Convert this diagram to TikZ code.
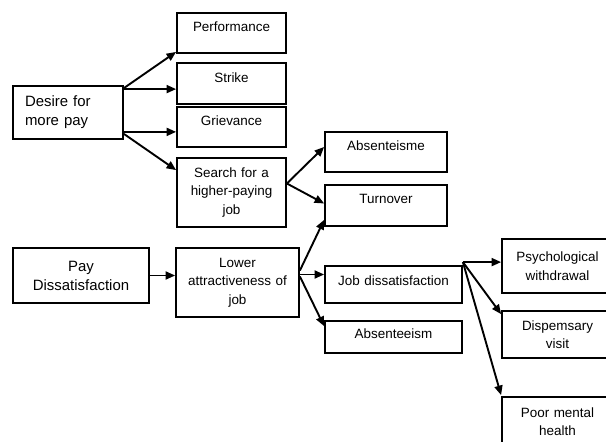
\documentclass[tikz,border=0pt]{standalone}
\usepackage{fontspec}
\setmainfont{Liberation Sans}
\usepackage{tikz}
\usetikzlibrary{arrows.meta}

\begin{document}
\begin{tikzpicture}[x=1bp, y=-1bp,
    box/.style={draw, line width=1.8bp, inner xsep=4bp, inner ysep=0bp, align=center,
                font=\fontsize{13.5}{18.5}\selectfont},
    big/.style={font=\fontsize{15}{19}\selectfont},
    single/.style={text height=10bp, text depth=#1},
    arr/.style={line width=1.9bp, -{Triangle[length=9.5bp,width=8bp]}}]
             \useasboundingbox (0,0) rectangle (606,442);

             % left column
             \node[box, big, align=left, inner xsep=12bp, text width=86bp, minimum height=53bp] (desire) at (68,112.5) {Desire for\\more pay};
             \node[box, big, text width=128bp, minimum height=55bp] (pay) at (81,275.5) {Pay\\Dissatisfaction};

             % second column
             \node[box, single=13bp, text width=101bp, minimum height=40bp] (perf) at (231.5,33) {Performance};
             \node[box, single=12bp, text width=101bp, minimum height=41bp] (strike) at (231.5,83.5) {Strike};
             \node[box, single=13bp, text width=101bp, minimum height=40bp] (griev) at (231.5,127) {Grievance};
             \node[box, text width=101bp, minimum height=69bp] (search) at (231.5,192.5) {Search for a\\higher-paying\\job};
             \node[box, text width=115bp, minimum height=69bp] (lower) at (237.5,282.5) {Lower\\attractiveness of\\job};

             % third column
             \node[box, single=13bp, text width=114bp, minimum height=40bp] (absme) at (386,152) {Absenteisme};
             \node[box, single=14bp, text width=114bp, minimum height=41bp] (turn) at (386,205.5) {Turnover};
             \node[box, single=8bp, text width=129bp, minimum height=37bp] (jobd) at (393.5,284.5) {Job dissatisfaction};
             \node[box, single=8bp, text width=129bp, minimum height=32bp] (absm) at (393.5,337) {Absenteeism};

             % fourth column
             \node[box, text width=103bp, minimum height=54bp] (psych) at (557.5,266) {Psychological\\withdrawal};
             \node[box, text width=103bp, minimum height=47bp] (disp) at (557.5,334.5) {Dispemsary\\visit};
             \node[box, text width=103bp, minimum height=49bp] (poor) at (557.5,421.5) {Poor mental\\health};

             % arrows
             \draw[arr] ([yshift=-3bp]desire.north east) -- ([yshift=2bp]perf.south west);
             \draw[arr] ([yshift=-4bp]desire.north east) -- ([yshift=-4bp]desire.north east -| strike.west);
             \draw[arr] ([yshift=8bp]desire.south east) -- ([yshift=8bp]desire.south east -| griev.west);
             \draw[arr] ([yshift=6bp]desire.south east) -- ([yshift=-13bp]search.north west);
             \draw[arr] ([yshift=9bp]search.east) -- ([yshift=5bp]absme.west);
             \draw[arr] ([yshift=9bp]search.east) -- ([yshift=2bp]turn.west);
             \draw[arr] (pay.east) -- (pay.east -| lower.west);
             \draw[arr] ([yshift=12bp]lower.east) -- ([yshift=7bp]turn.south west);
             \draw[arr] ([yshift=8bp]lower.east) -- ([yshift=8bp]lower.east -| jobd.west);
             \draw[arr] ([yshift=6bp]lower.east) -- ([yshift=-6bp]absm.north west);
             \draw[arr] ([yshift=3bp]jobd.north east) -- ([yshift=3bp]jobd.north east -| psych.west);
             \draw[arr] ([yshift=3bp]jobd.north east) -- ([yshift=-4bp]disp.north west);
             \draw[arr] ([yshift=3bp]jobd.north east) -- ([yshift=1bp]poor.north west);
             \end{tikzpicture}
\end{document}
